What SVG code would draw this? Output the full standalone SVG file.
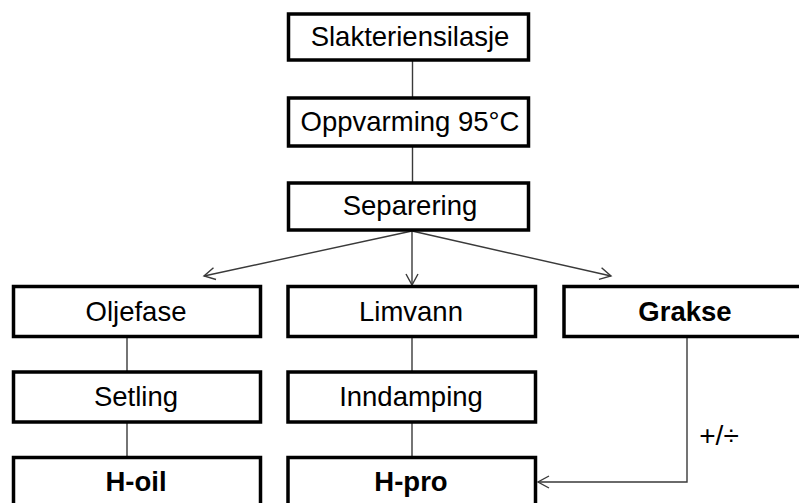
<svg xmlns="http://www.w3.org/2000/svg" width="799" height="503" viewBox="0 0 799 503">
<style>
.box{fill:#fff;stroke:#000;stroke-width:3.5}
.t{font-family:"Liberation Sans",Arial,sans-serif;font-size:27.5px;fill:#000;text-anchor:middle}
.b{font-weight:bold}
.c{fill:none;stroke:#3a3a3a;stroke-width:1.4}
</style>
<defs>
<marker id="ah" markerUnits="userSpaceOnUse" markerWidth="14" markerHeight="14" viewBox="0 0 14 14" refX="12" refY="7" orient="auto">
<path d="M1,1 L12,7 L1,13" fill="none" stroke="#3a3a3a" stroke-width="1.4"/>
</marker>
</defs>
<rect width="799" height="503" fill="#fff"/>
<g id="connectors">
<line class="c" x1="412.5" y1="60" x2="412.5" y2="98"/>
<line class="c" x1="412.5" y1="146" x2="412.5" y2="183"/>
<line class="c" x1="412" y1="231" x2="204" y2="276" marker-end="url(#ah)"/>
<line class="c" x1="412" y1="231" x2="412" y2="285" marker-end="url(#ah)"/>
<line class="c" x1="412" y1="231" x2="611" y2="276" marker-end="url(#ah)"/>
<line class="c" x1="127" y1="337" x2="127" y2="372"/>
<line class="c" x1="127" y1="422" x2="127" y2="457"/>
<line class="c" x1="412" y1="337" x2="412" y2="372"/>
<line class="c" x1="412" y1="422" x2="412" y2="457"/>
<polyline class="c" points="687,337 687,482 538,482" marker-end="url(#ah)"/>
</g>
<g id="n1"><rect class="box" x="288.5" y="14" width="240" height="46"/><text class="t" x="410" y="46">Slakteriensilasje</text></g>
<g id="n2"><rect class="box" x="288.5" y="98" width="240" height="48"/><text class="t" x="410" y="131">Oppvarming 95°C</text></g>
<g id="n3"><rect class="box" x="288.5" y="183" width="240" height="47"/><text class="t" x="410" y="215">Separering</text></g>
<g id="n4"><rect class="box" x="13.5" y="286.5" width="247" height="50"/><text class="t" x="136" y="321">Oljefase</text></g>
<g id="n5"><rect class="box" x="288" y="286.5" width="247.5" height="50"/><text class="t" x="411" y="321">Limvann</text></g>
<g id="n6"><rect class="box" x="564" y="286.5" width="243" height="50"/><text class="t b" x="685" y="321">Grakse</text></g>
<g id="n7"><rect class="box" x="13.5" y="372" width="247" height="50"/><text class="t" x="136" y="406">Setling</text></g>
<g id="n8"><rect class="box" x="288" y="372" width="247.5" height="50"/><text class="t" x="411" y="406">Inndamping</text></g>
<g id="n9"><rect class="box" x="13.5" y="457.5" width="247" height="50"/><text class="t b" x="136" y="491">H-oil</text></g>
<g id="n10"><rect class="box" x="288" y="457.5" width="247.5" height="50"/><text class="t b" x="411" y="491">H-pro</text></g>
<text class="t" x="719" y="445" style="font-size:28px">+/÷</text>
</svg>
